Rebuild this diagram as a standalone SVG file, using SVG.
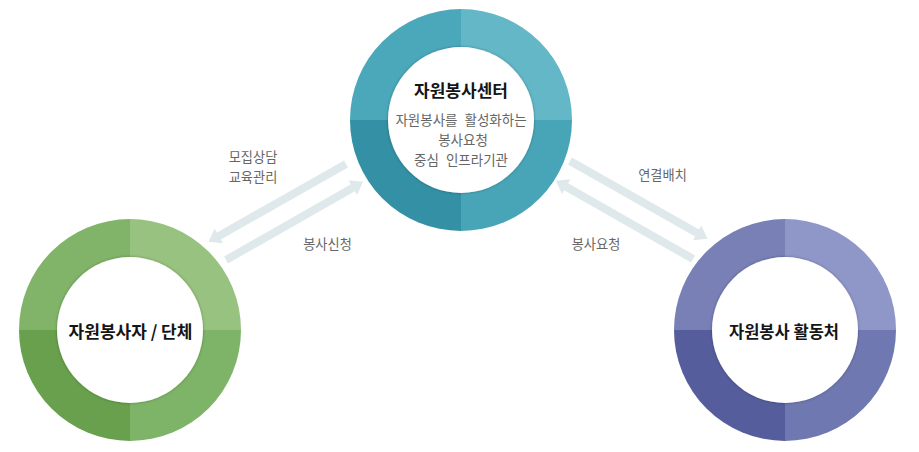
<svg xmlns="http://www.w3.org/2000/svg" xmlns:xlink="http://www.w3.org/1999/xlink" width="919" height="452" viewBox="0 0 919 452">
<defs>
<style>
.title{font-family:"Noto Sans CJK KR","Noto Sans",sans-serif;font-weight:bold;fill:#151515;text-anchor:middle}
.sub{font-family:"Noto Sans CJK KR","Noto Sans",sans-serif;fill:#666;font-size:13.5px;text-anchor:middle}
.lbl{font-family:"Noto Sans CJK KR","Noto Sans",sans-serif;fill:#666;font-size:13.2px;text-anchor:middle}
.arrow{fill:#dfe9ec}
.hole{fill:#fff}
</style>
<filter id="sh" x="-20%" y="-20%" width="140%" height="140%">
<feDropShadow dx="0" dy="0" stdDeviation="1.8" flood-color="#000" flood-opacity="0.3"/>
</filter>
<path id="qTL" d="M0,0 L-111,0 A111,111 0 0 1 0,-111 Z"/>
<path id="qTR" d="M0,0 L0,-111 A111,111 0 0 1 111,0 Z"/>
<path id="qBR" d="M0,0 L111,0 A111,111 0 0 1 0,111 Z"/>
<path id="qBL" d="M0,0 L0,111 A111,111 0 0 1 -111,0 Z"/>
<path id="arr" d="M0,-4 H146 V-8.5 L158,0 L146,8.5 V4 H0 Z"/>
</defs>
<rect width="919" height="452" fill="#fff"/>

<g id="connectors">
<use xlink:href="#arr" class="arrow" transform="translate(346,164) rotate(150.5)"/>
<use xlink:href="#arr" class="arrow" transform="translate(226,260) rotate(-29.7)"/>
<use xlink:href="#arr" class="arrow" transform="translate(570,161) rotate(29.5)"/>
<use xlink:href="#arr" class="arrow" transform="translate(693,259) rotate(209.7)"/>
<text class="lbl" x="253" y="162">모집상담</text>
<text class="lbl" x="253" y="181.5">교육관리</text>
<text class="lbl" x="327.5" y="248.5">봉사신청</text>
<text class="lbl" x="662.5" y="179.5">연결배치</text>
<text class="lbl" x="596" y="249">봉사요청</text>
</g>

<g id="center-node" transform="translate(461,120)">
<use xlink:href="#qTL" fill="#4ba8bb"/>
<use xlink:href="#qTR" fill="#63b7c7"/>
<use xlink:href="#qBR" fill="#48a5b7"/>
<use xlink:href="#qBL" fill="#3490a4"/>
<circle class="hole" r="73" filter="url(#sh)"/>
<text class="title" x="0" y="-23" font-size="17">자원봉사센터</text>
<text class="sub" x="0" y="4.5" word-spacing="4">자원봉사를 활성화하는</text>
<text class="sub" x="2" y="25">봉사요청</text>
<text class="sub" x="0" y="44.5" word-spacing="4">중심 인프라기관</text>
</g>

<g id="volunteer-node" transform="translate(130,330)">
<use xlink:href="#qTL" fill="#81b468"/>
<use xlink:href="#qTR" fill="#98c27f"/>
<use xlink:href="#qBR" fill="#7db467"/>
<use xlink:href="#qBL" fill="#68a04d"/>
<circle class="hole" r="73" filter="url(#sh)"/>
<text class="title" x="0.5" y="7.5" font-size="17">자원봉사자 / 단체</text>
</g>

<g id="agency-node" transform="translate(785,330)">
<use xlink:href="#qTL" fill="#7880b6"/>
<use xlink:href="#qTR" fill="#8e97c7"/>
<use xlink:href="#qBR" fill="#6f78b0"/>
<use xlink:href="#qBL" fill="#555d9c"/>
<circle class="hole" r="73" filter="url(#sh)"/>
<text class="title" x="-1" y="7.5" font-size="16.5">자원봉사 활동처</text>
</g>
</svg>
